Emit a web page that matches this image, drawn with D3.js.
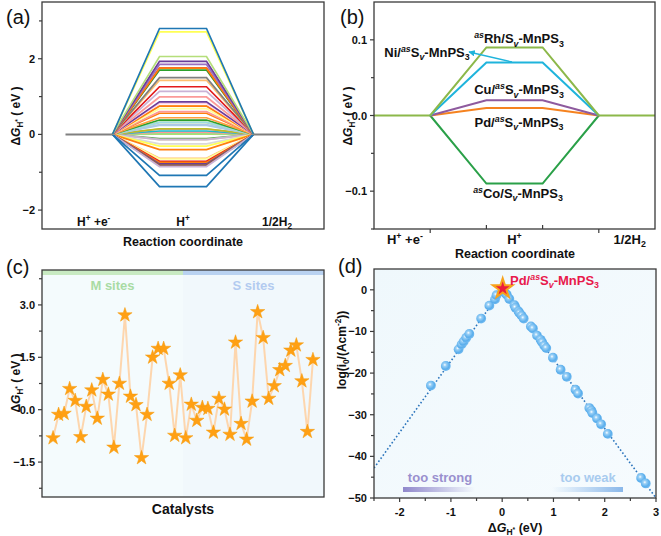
<!DOCTYPE html>
<html><head><meta charset="utf-8">
<script src="https://cdn.jsdelivr.net/npm/d3@7"></script>
<style>body{margin:0;background:#fff}svg{display:block}text{font-family:Arial,'Liberation Sans',sans-serif}</style>
</head><body>
<svg id="chart" width="661" height="536"></svg>
<script>
// ---------------- DATA ----------------
// ΔG_H* (eV) of the 48 catalysts (panel c order; same set drawn in panel a)
const dG = [-0.81,-0.14,-0.11,0.60,0.26,-0.78,0.09,0.56,-0.25,0.86,0.44,-1.08,0.75,2.71,0.38,0.14,-1.38,-0.14,1.50,1.75,1.75,0.75,-0.74,0.99,
            -0.81,0.15,-0.31,0.06,0.03,-0.65,0.32,0.01,-0.71,1.93,-0.40,-0.85,0.24,2.80,2.06,0.32,0.68,1.14,1.26,1.70,1.85,0.82,-0.63,1.43];
const siteLabels = ["M sites", "S sites"];
const siteCounts = [24, 24];
// colours of panel (a) lines, from highest level to lowest
const levelColors = ["#1f77b4","#ffff55","#b5de7a","#6a3d9a","#9b6fc0","#e31a1c","#ff7f0e","#2ca02c","#7f7f7f","#fdbf6f","#e31a1c","#cab2d6",
  "#fb9a99","#6a3d9a","#fccde5","#ffbb78","#ff7f0e","#ffff99","#fb9a99","#ff7f0e","#ff9f3f","#2ca02c","#b3de69","#9edae5","#aec7e8","#a6cee3",
  "#bcbd22","#c49c94","#17becf","#ff9896","#98df8a","#b3de69","#5fa35f","#dbdb8d","#cab2d6","#d9d9d9","#ffff55","#ff7f0e","#fdbf6f","#ffff99",
  "#e31a1c","#ff7f0e","#6a3d9a","#7f7f7f","#8c564b","#cab2d6","#1f77b4","#1f77b4"];
const stepLabels = ["H+ +e-", "H+", "1/2H2"];
// panel (b)
const bNames = ["Rh", "Ni", "Cu", "Pd", "Co"];
const bValues = [0.09, 0.07, 0.02, 0.01, -0.09];
const bColors = ["#8cb84a", "#1fb4dc", "#8e5a9e", "#f5821f", "#2aa048"];
// panel (d) volcano points
const dX = [-1.39,-1.10,-0.85,-0.79,-0.75,-0.70,-0.64,-0.41,-0.25,-0.14,-0.11,0.06,0.09,0.14,0.24,0.26,0.32,0.34,0.38,0.42,0.56,0.60,0.68,0.75,0.78,0.82,0.86,0.99,1.14,1.26,1.43,1.48,1.70,1.74,1.76,1.85,1.93,2.06,2.71,2.80];
const dY = [-23.0,-18.3,-14.3,-13.1,-12.4,-11.5,-10.6,-6.9,-3.8,-2.3,-1.3,-0.8,-1.2,-2.2,-3.7,-4.3,-5.2,-5.6,-6.2,-6.9,-8.8,-9.3,-11.0,-12.0,-12.6,-13.4,-14.0,-16.3,-19.2,-20.9,-24.0,-24.9,-28.4,-29.0,-29.6,-30.9,-32.3,-34.6,-45.2,-46.5];
const bestX = [0.01], bestY = [0.3];
const volX = [-2.5, 0, 3.0];
const volY = [-42.8, 0, -50.0];

// ---------------- HELPERS ----------------
const svg = d3.select("#chart");
const FR = "#3a3a3a";
function rich(sel, segs, size){
  let cur = 0;
  segs.forEach(s => {
    let lvl = 0, fs = size;
    if (s.s === "sup") { lvl = -size*0.38; fs = size*0.68; }
    if (s.s === "sub") { lvl = size*0.25; fs = size*0.68; }
    if (s.s === "star") { lvl = size*0.02; fs = size*0.55; }
    const ts = sel.append("tspan").text(s.t).attr("dy", lvl - cur).attr("font-size", fs);
    if (s.i) ts.attr("font-style", "italic");
    cur = lvl;
  });
  return sel;
}
function txt(x, y, segs, size, opts = {}){
  const t = svg.append("text").attr("x", x).attr("y", y).attr("font-size", size)
    .attr("font-weight", opts.weight || "bold").attr("text-anchor", opts.anchor || "middle")
    .attr("fill", opts.fill || "#111");
  if (opts.rotate) t.attr("transform", `rotate(-90,${x},${y})`);
  return rich(t, segs, size);
}
const dGsegs = [{t:"Δ"},{t:"G",i:1},{t:"H",s:"sub"},{t:"*",s:"star"},{t:" ( eV )"}];
function frame(x0,y0,x1,y1){
  svg.append("rect").attr("x",x0).attr("y",y0).attr("width",x1-x0).attr("height",y1-y0)
    .attr("fill","none").attr("stroke",FR).attr("stroke-width",1.3);
}
function yAxis(x, y, majors, minors, fmt){
  const g = svg.append("g");
  majors.forEach(v => {
    g.append("line").attr("x1",x-4).attr("x2",x).attr("y1",y(v)).attr("y2",y(v)).attr("stroke",FR).attr("stroke-width",1.2);
    g.append("text").attr("x",x-7).attr("y",y(v)+4).attr("text-anchor","end").attr("font-size",11).attr("font-weight","bold").attr("fill","#111").text(fmt(v));
  });
  minors.forEach(v => g.append("line").attr("x1",x-3).attr("x2",x).attr("y1",y(v)).attr("y2",y(v)).attr("stroke",FR).attr("stroke-width",1.2));
}
const stepSegs = [
  [{t:"H"},{t:"+",s:"sup"},{t:" +e"},{t:"-",s:"sup"}],
  [{t:"H"},{t:"+",s:"sup"}],
  [{t:"1/2H"},{t:"2",s:"sub"}]
];

// ---------------- PANEL A ----------------
{
  const x = d3.scaleLinear().domain([-0.5,5.5]).range([42,324]);
  const y = d3.scaleLinear().domain([-2.5,3.5]).range([229,2]);
  const order = d3.range(dG.length).sort((a,b)=>dG[b]-dG[a]);
  const colorOf = {}; order.forEach((idx,r)=>colorOf[idx]=levelColors[r]);
  const line = d3.line().x(d=>x(d[0])).y(d=>y(d[1]));
  const drawOrder = d3.range(dG.length).sort((a,b)=>Math.abs(dG[a])-Math.abs(dG[b]));
  drawOrder.forEach(i => {
    const v = dG[i];
    svg.append("path").attr("d", line([[1,0],[2,v],[3,v],[4,0]]))
      .attr("fill","none").attr("stroke",colorOf[i]).attr("stroke-width",1.7);
  });
  svg.append("path").attr("d", line([[0,0],[1,0]])).attr("stroke","#808080").attr("stroke-width",2);
  svg.append("path").attr("d", line([[4,0],[5,0]])).attr("stroke","#808080").attr("stroke-width",2);
  frame(42,2,324,229);
  yAxis(42, y, [-2,0,2], [-1,1,3], d3.format("d"));
  [0.6,2.5,4.5].forEach((p,k)=>txt(x(p), 226, stepSegs[k], 12));
  txt(183, 246, [{t:"Reaction coordinate"}], 12.5);
  txt(20, 116, dGsegs, 12, {rotate:true});
  txt(6, 24, [{t:"(a)"}], 20, {weight:"normal", anchor:"start"});
}

// ---------------- PANEL B ----------------
{
  const x = d3.scaleLinear().domain([-1,4]).range([374,655]);
  const y = d3.scaleLinear().domain([-0.15,0.15]).range([229,2]);
  const line = d3.line().x(d=>x(d[0])).y(d=>y(d[1]));
  svg.append("path").attr("d", line([[-1,0],[0,0]])).attr("stroke","#8cb84a").attr("stroke-width",2.2);
  svg.append("path").attr("d", line([[3,0],[4,0]])).attr("stroke","#8cb84a").attr("stroke-width",2.2);
  [4,3,2,1,0].forEach(i => {
    const v = bValues[i];
    svg.append("path").attr("d", line([[0,0],[1,v],[2,v],[3,0]]))
      .attr("fill","none").attr("stroke",bColors[i]).attr("stroke-width",2);
  });
  frame(374,2,655,229);
  yAxis(374, y, [-0.1,0,0.1], [-0.15,-0.05,0.05], d3.format(".1f"));
  [0,1,2,3].forEach(v => svg.append("line").attr("x1",x(v)).attr("x2",x(v)).attr("y1",229).attr("y2",v===0||v===3?233:225).attr("stroke",FR).attr("stroke-width",1.2));
  [-0.45,1.5,3.55].forEach((p,k)=>txt(x(p), 244, stepSegs[k], 13));
  txt(515, 258, [{t:"Reaction coordinate"}], 12.5);
  txt(352, 116, dGsegs, 12, {rotate:true});
  txt(340, 24, [{t:"(b)"}], 20, {weight:"normal", anchor:"start"});
  const lab = n => n==="Rh"||n==="Co"
    ? [{t:"as",s:"sup",i:1},{t:n+"/S"},{t:"v",s:"sub",i:1},{t:"-MnPS"},{t:"3",s:"sub"}]
    : [{t:n+"/"},{t:"as",s:"sup",i:1},{t:"S"},{t:"v",s:"sub",i:1},{t:"-MnPS"},{t:"3",s:"sub"}];
  txt(519, y(bValues[0])-4, lab("Rh"), 13);
  txt(427, 57, lab("Ni"), 13);
  txt(519, y(bValues[2])-6, lab("Cu"), 13);
  txt(519, y(bValues[3])+19, lab("Pd"), 13);
  txt(518, y(bValues[4])+14, lab("Co"), 13);
  // arrow for Ni
  const defs = svg.append("defs");
  defs.append("marker").attr("id","arr").attr("viewBox","0 0 10 10").attr("refX",9).attr("refY",5)
    .attr("markerWidth",5).attr("markerHeight",5).attr("orient","auto")
    .append("path").attr("d","M0,0L10,5L0,10z").attr("fill","#1fb4dc");
  svg.append("line").attr("x1",512).attr("y1",62).attr("x2",469).attr("y2",52)
    .attr("stroke","#1fb4dc").attr("stroke-width",1.3).attr("marker-end","url(#arr)");
}

// ---------------- PANEL C ----------------
{
  const x = d3.scaleLinear().domain([-2,49]).range([42,324]);
  const y = d3.scaleLinear().domain([-2.5,4]).range([497,270]);
  const split = x(siteCounts[0]-0.5);
  svg.append("rect").attr("x",42).attr("y",270).attr("width",split-42).attr("height",227).attr("fill","#f4fbfd");
  svg.append("rect").attr("x",split).attr("y",270).attr("width",324-split).attr("height",227).attr("fill","#f1f8fc");
  svg.append("rect").attr("x",42).attr("y",270).attr("width",split-42).attr("height",5).attr("fill","#c8eac2");
  svg.append("rect").attr("x",split).attr("y",270).attr("width",324-split).attr("height",5).attr("fill","#b9d2f1");
  txt((42+split)/2, 290, [{t:siteLabels[0]}], 13, {fill:"#a9dba4"});
  txt((split+324)/2, 290, [{t:siteLabels[1]}], 13, {fill:"#b3cbf0"});
  const line = d3.line().x((d,i)=>x(i)).y(d=>y(d));
  svg.append("path").attr("d", line(dG)).attr("fill","none").attr("stroke","#fdd6ae").attr("stroke-width",2);
  const star = d3.symbol().type(d3.symbolStar).size(64);
  svg.append("g").selectAll("path").data(dG).join("path")
    .attr("d", star).attr("transform",(d,i)=>`translate(${x(i)},${y(d)})`)
    .attr("fill","#ffa014").attr("stroke","#f59a0a").attr("stroke-width",0.5);
  frame(42,270,324,497);
  yAxis(42, y, [-1.5,0,1.5,3], [-2.25,-0.75,0.75,2.25,3.75], d3.format(".1f"));
  txt(183, 514, [{t:"Catalysts"}], 14);
  txt(20, 383, dGsegs, 12, {rotate:true});
  txt(6, 274, [{t:"(c)"}], 20, {weight:"normal", anchor:"start"});
}

// ---------------- PANEL D ----------------
{
  const x = d3.scaleLinear().domain([-2.5,3]).range([374,656]);
  const y = d3.scaleLinear().domain([-50,5]).range([498,269]);
  const defs = svg.append("defs");
  const bg = defs.append("linearGradient").attr("id","bgd").attr("x1",0).attr("y1",0).attr("x2",1).attr("y2",1);
  bg.append("stop").attr("offset",0).attr("stop-color","#eff8fc");
  bg.append("stop").attr("offset",1).attr("stop-color","#f6fbfe");
  svg.append("rect").attr("x",374).attr("y",269).attr("width",282).attr("height",229).attr("fill","url(#bgd)");
  defs.append("clipPath").attr("id","clipd").append("rect").attr("x",374).attr("y",269).attr("width",282).attr("height",229);
  const gl = defs.append("linearGradient").attr("id","gStrong");
  gl.append("stop").attr("offset",0).attr("stop-color","#9088cc");
  gl.append("stop").attr("offset",1).attr("stop-color","#9088cc").attr("stop-opacity",0);
  const gw = defs.append("linearGradient").attr("id","gWeak");
  gw.append("stop").attr("offset",0).attr("stop-color","#8ab8ea").attr("stop-opacity",0);
  gw.append("stop").attr("offset",1).attr("stop-color","#8ab8ea");
  const sph = defs.append("radialGradient").attr("id","sph").attr("cx","40%").attr("cy","38%").attr("r","65%");
  sph.append("stop").attr("offset",0).attr("stop-color","#ffffff");
  sph.append("stop").attr("offset",0.25).attr("stop-color","#9ad0f6");
  sph.append("stop").attr("offset",0.7).attr("stop-color","#5aaeec");
  sph.append("stop").attr("offset",1).attr("stop-color","#79bdf0");

  svg.append("rect").attr("x",403).attr("y",487).attr("width",72).attr("height",5).attr("fill","url(#gStrong)");
  svg.append("rect").attr("x",552).attr("y",487).attr("width",71).attr("height",5).attr("fill","url(#gWeak)");
  txt(440, 482, [{t:"too strong"}], 13, {fill:"#9a90cf", weight:"bold"});
  txt(588, 482, [{t:"too weak"}], 13, {fill:"#a8cbef", weight:"bold"});

  const vl = d3.line().x((d,i)=>x(volX[i])).y(d=>y(d));
  svg.append("path").attr("d", vl(volY)).attr("clip-path","url(#clipd)").attr("fill","none")
    .attr("stroke","#2a74bc").attr("stroke-width",1.6).attr("stroke-dasharray","1.6,2.2");
  svg.append("g").selectAll("circle").data(dX).join("circle")
    .attr("cx",d=>x(d)).attr("cy",(d,i)=>y(dY[i])).attr("r",4.9).attr("fill","url(#sph)");
  const bigStar = d3.symbol().type(d3.symbolStar).size(120);
  svg.append("path").attr("d", bigStar).attr("transform",`translate(${x(bestX[0])},${y(bestY[0])})`)
    .attr("fill","#ec1c3c").attr("stroke","#f7a21b").attr("stroke-width",2);
  txt(510, 285, [{t:"Pd/"},{t:"as",s:"sup",i:1},{t:"S"},{t:"v",s:"sub",i:1},{t:"-MnPS"},{t:"3",s:"sub"}], 13, {fill:"#e8194c", anchor:"start"});

  frame(374,269,656,498);
  yAxis(374, y, [-50,-40,-30,-20,-10,0], [-45,-35,-25,-15,-5], d3.format("d"));
  [-2,-1,0,1,2,3].forEach(v => {
    svg.append("line").attr("x1",x(v)).attr("x2",x(v)).attr("y1",498).attr("y2",502).attr("stroke",FR).attr("stroke-width",1.2);
    svg.append("text").attr("x",x(v)).attr("y",516).attr("text-anchor","middle").attr("font-size",11).attr("font-weight","bold").attr("fill","#111").text(v);
  });
  [-2.5,-1.5,-0.5,0.5,1.5,2.5].forEach(v => svg.append("line").attr("x1",x(v)).attr("x2",x(v)).attr("y1",498).attr("y2",501).attr("stroke",FR).attr("stroke-width",1.2));
  txt(515, 532, [{t:"Δ"},{t:"G",i:1},{t:"H",s:"sub"},{t:"*",s:"star"},{t:" (eV)"}], 12.5);
  txt(346, 350, [{t:"log(i"},{t:"0",s:"sub"},{t:"/(Acm"},{t:"-2",s:"sup"},{t:"))"}], 12, {rotate:true});
  txt(338, 273, [{t:"(d)"}], 20, {weight:"normal", anchor:"start"});
}
</script>
</body></html>
